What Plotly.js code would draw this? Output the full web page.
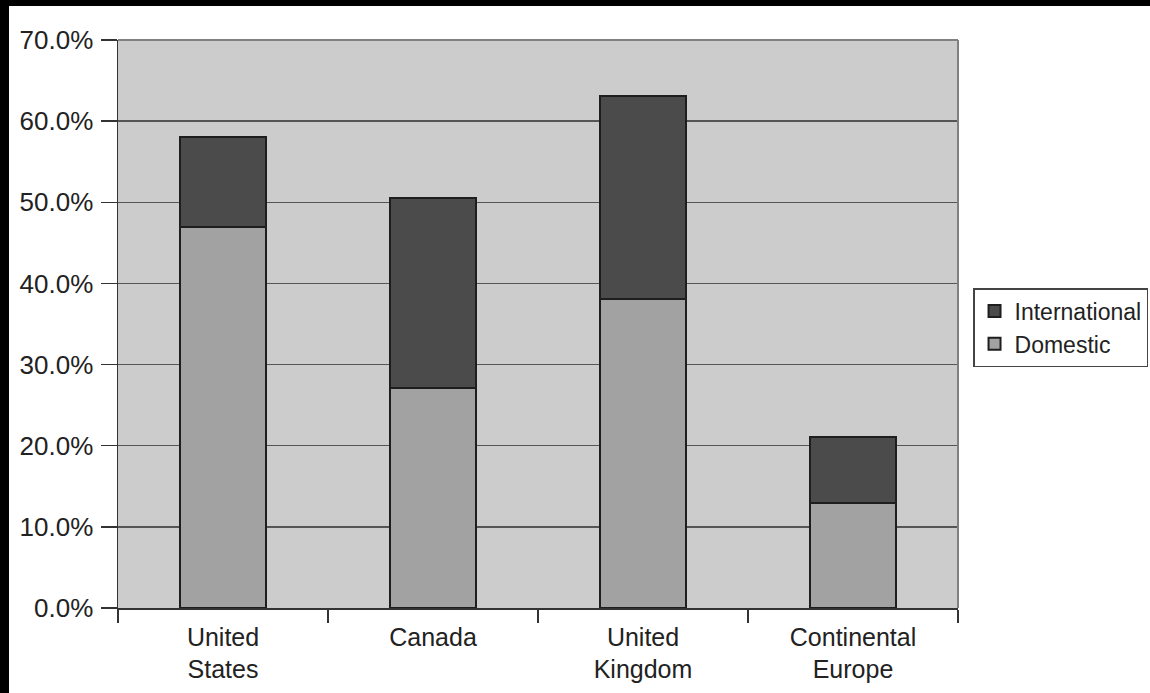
<!DOCTYPE html>
<html>
<head>
<meta charset="utf-8">
<script src="https://cdn.plot.ly/plotly-3.0.1.min.js"></script>
<style>
  html, body { margin: 0; padding: 0; background: #000; width: 1150px; height: 693px; overflow: hidden; }
  #chart { position: absolute; left: 9px; top: 6px; width: 1141px; height: 687px; background: #fff; }
</style>
</head>
<body>
<div id="chart"></div>
<script>
const categories = ["United<br>States", "Canada", "United<br>Kingdom", "Continental<br>Europe"];
const domestic = [46.9, 27.1, 38.1, 12.9];
const international = [11.2, 23.4, 25.0, 8.2];
const yTicks = [0, 10, 20, 30, 40, 50, 60, 70];
const yTickLabels = ["0.0%", "10.0%", "20.0%", "30.0%", "40.0%", "50.0%", "60.0%", "70.0%"];

const fam = "Liberation Sans, Arial, Helvetica, sans-serif";
const xFont = { family: fam, size: 25, color: "#222" };
const yFont = { family: fam, size: 26, color: "#222" };
const legFont = { family: fam, size: 23, color: "#222" };

const traces = [
  {
    type: "bar", name: "Domestic", x: categories, y: domestic,
    marker: { color: "#a2a2a2", line: { color: "#1e1e1e", width: 2 } },
    hoverinfo: "skip"
  },
  {
    type: "bar", name: "International", x: categories, y: international,
    marker: { color: "#4b4b4b", line: { color: "#1e1e1e", width: 2 } },
    hoverinfo: "skip"
  }
];

const layout = {
  width: 1141, height: 687,
  margin: { l: 109, r: 192, t: 34, b: 85 },
  paper_bgcolor: "#ffffff",
  plot_bgcolor: "#cccccc",
  barmode: "stack",
  bargap: 0.595,
  font: xFont,
  showlegend: true,
  legend: {
    xref: "container", yref: "container",
    x: 0.8449, xanchor: "left", y: 0.5895, yanchor: "top",
    traceorder: "reversed",
    bgcolor: "#ffffff", bordercolor: "#444", borderwidth: 1.5,
    font: legFont, itemwidth: 30, tracegroupgap: 0
  },
  xaxis: {
    type: "category",
    tickson: "boundaries",
    ticks: "outside", ticklen: 13, tickwidth: 1.5, tickcolor: "#333",
    ticklabelstandoff: 6,
    showline: true, linecolor: "#333", linewidth: 1.5,
    showgrid: false, zeroline: false,
    tickfont: xFont, fixedrange: true
  },
  yaxis: {
    range: [0, 70],
    tickvals: yTicks, ticktext: yTickLabels,
    ticks: "outside", ticklen: 16, tickwidth: 1.5, tickcolor: "#333",
    ticklabelstandoff: 2,
    showline: true, linecolor: "#333", linewidth: 1.5,
    showgrid: true, gridcolor: "#555555", gridwidth: 1.4,
    zeroline: false,
    tickfont: yFont, fixedrange: true
  },
  shapes: [
    { type: "line", xref: "paper", yref: "paper", x0: 0, x1: 1, y0: 1, y1: 1, line: { color: "#808080", width: 2 } },
    { type: "line", xref: "paper", yref: "paper", x0: 1, x1: 1, y0: 0, y1: 1, line: { color: "#808080", width: 2 } }
  ]
};

Plotly.newPlot("chart", traces, layout, { displayModeBar: false, staticPlot: true });
</script>
</body>
</html>
